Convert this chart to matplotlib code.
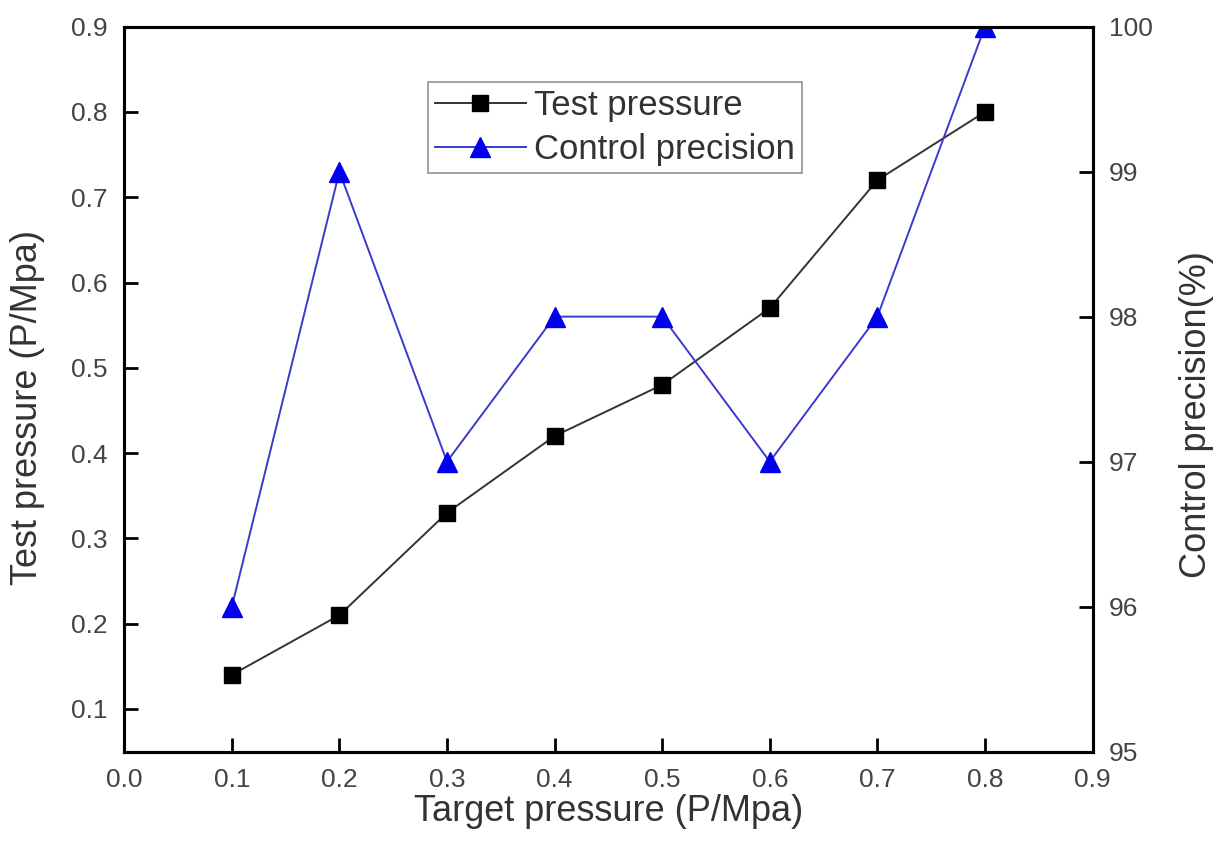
import matplotlib
matplotlib.use("Agg")
import matplotlib.pyplot as plt

plt.rcParams['font.family'] = ['Liberation Sans', 'DejaVu Sans']

target = [0.1, 0.2, 0.3, 0.4, 0.5, 0.6, 0.7, 0.8]
test_pressure = [0.14, 0.21, 0.33, 0.42, 0.48, 0.57, 0.72, 0.80]
precision = [96, 99, 97, 98, 98, 97, 98, 100]

fig = plt.figure(figsize=(12.18, 8.59), dpi=100)
ax = fig.add_axes([0.102, 0.125, 0.795, 0.844])
ax2 = ax.twinx()

l1, = ax.plot(target, test_pressure, color='#333333', lw=1.4, marker='s',
              ms=11, mfc='black', mec='black', label='Test pressure')
l2, = ax2.plot(target, precision, color='#3a3acc', lw=1.4, marker='^',
               ms=14, mfc='#0000ee', mec='#0000ee', label='Control precision')

ax.set_xlim(0, 0.9)
ax.set_ylim(0.05, 0.9)
ax2.set_ylim(95, 100)
ax.set_xticks([0.0, 0.1, 0.2, 0.3, 0.4, 0.5, 0.6, 0.7, 0.8, 0.9])
ax.set_yticks([0.1, 0.2, 0.3, 0.4, 0.5, 0.6, 0.7, 0.8, 0.9])
ax2.set_yticks([95, 96, 97, 98, 99, 100])

for a in (ax, ax2):
    for s in a.spines.values():
        s.set_linewidth(2.2)
    a.tick_params(direction='in', length=10, width=2, labelsize=19,
                  labelcolor='#444444', pad=12)

ax.set_xlabel('Target pressure (P/Mpa)', fontsize=26, color='#333333', labelpad=1)
ax.set_ylabel('Test pressure (P/Mpa)', fontsize=26, color='#333333')
ax2.set_ylabel('Control precision(%)', fontsize=26, color='#333333')
ax.yaxis.set_label_coords(-0.082, 0.474)
ax2.yaxis.set_label_coords(1.089, 0.465)

leg = ax.legend(handles=[l1, l2], loc='upper left', bbox_to_anchor=(0.314, 0.923),
                fontsize=25, frameon=True, fancybox=False, borderpad=0.2,
                handlelength=2.6, handletextpad=0.25, labelspacing=0.3,
                borderaxespad=0)
leg.get_frame().set_edgecolor('#777777')
leg.get_frame().set_linewidth(1.2)
for t in leg.get_texts():
    t.set_color('#333333')

fig.savefig('out.png', dpi=100)
